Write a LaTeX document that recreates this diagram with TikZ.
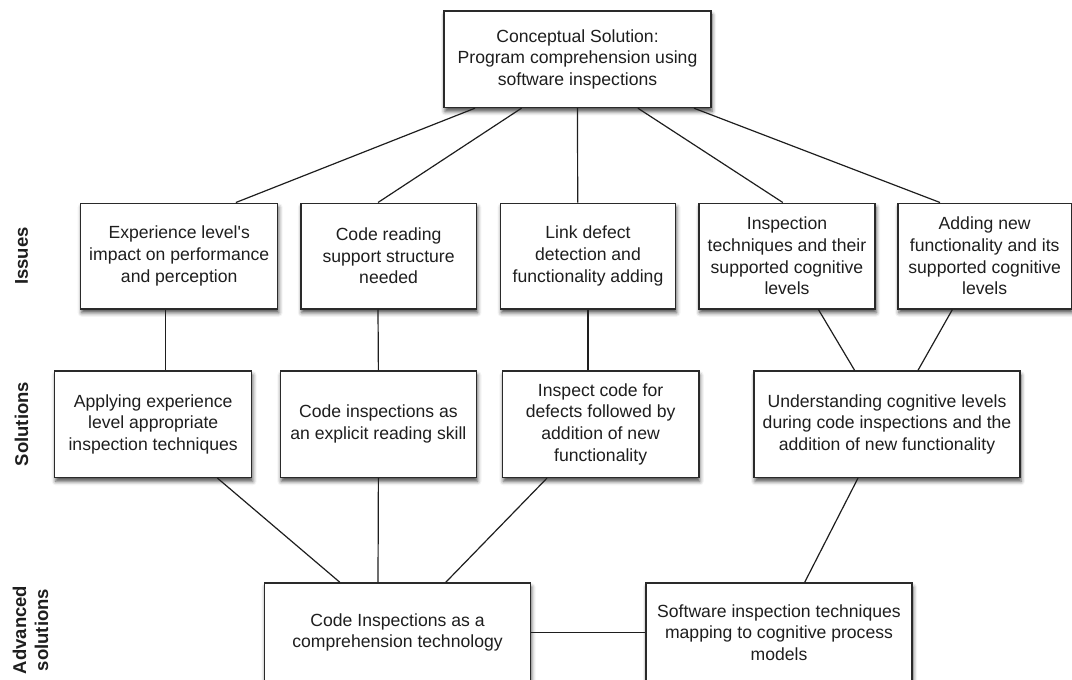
\documentclass[tikz,border=0pt]{standalone}
\usepackage{fontspec}
\newfontfamily\helv{Liberation Sans}
\usetikzlibrary{shadows.blur}
\definecolor{ink}{HTML}{1E1E1E}
\definecolor{frame}{HTML}{2A2A2A}
\tikzset{
  box/.style={draw=frame, line width=1.5pt, fill=white, inner sep=0pt,
    align=center, text=ink,
    font=\helv\fontsize{17.6}{21.6}\selectfont,
    blur shadow={shadow xshift=1pt, shadow yshift=-4pt,
      shadow blur radius=4pt, shadow opacity=70}},
  link/.style={draw=ink, line width=1.2pt},
  rowlabel/.style={rotate=90, align=center, text=ink,
    font=\helv\bfseries\fontsize{18.5}{22}\selectfont}
}
\begin{document}
\begin{tikzpicture}[x=1pt, y=-1pt]
\useasboundingbox (0,0) rectangle (1072,680);
\begin{scope}
\clip (-10,-10) rectangle (1082,680);

% top concept
\node[box, minimum width=267, minimum height=96.5] (top) at (577.5,59.2)
  {Conceptual Solution:\\Program comprehension using\\software inspections};

% issues row
\node[box, minimum width=197, minimum height=105.5] (i1) at (179.2,256)
  {Experience level's\\impact on performance\\and perception};
\node[box, minimum width=175.7, minimum height=105.5] (i2) at (388.6,256)
  {Code reading\\support structure\\needed};
\node[box, minimum width=175, minimum height=105.5] (i3) at (588,256)
  {Link defect\\detection and\\functionality adding};
\node[box, minimum width=176.3, minimum height=105.5] (i4) at (787,256)
  {Inspection\\techniques and their\\supported cognitive\\levels};
\node[box, minimum width=173.5, minimum height=105.5] (i5) at (984.7,256)
  {Adding new\\functionality and its\\supported cognitive\\levels};

% solutions row
\node[box, minimum width=197, minimum height=106.3] (s1) at (153.2,424.2)
  {Applying experience\\level appropriate\\inspection techniques};
\node[box, minimum width=196.2, minimum height=106.3] (s2) at (378.4,424.2)
  {Code inspections as\\an explicit reading skill};
\node[box, minimum width=196.3, minimum height=106.3] (s3) at (600.6,424.2)
  {Inspect code for\\defects followed by\\addition of new\\functionality};
\node[box, minimum width=266, minimum height=106.3] (s4) at (887,424.2)
  {Understanding cognitive levels\\during code inspections and the\\addition of new functionality};

% advanced solutions row
\node[box, minimum width=266, minimum height=99] (a1) at (397.5,632.5)
  {Code Inspections as a\\comprehension technology};
\node[box, minimum width=266, minimum height=99] (a2) at (779,632.5)
  {Software inspection techniques\\mapping to cognitive process\\models};
\end{scope}

% concept to issues
\draw[link] ([xshift=-102.5pt]top.south) -- ([xshift=56.7pt]i1.north);
\draw[link] ([xshift=-56pt]top.south) -- ([xshift=-10.6pt]i2.north);
\draw[link] (top.south) -- ([xshift=-10.3pt]i3.north);
\draw[link] ([xshift=60.4pt]top.south) -- ([xshift=-4.2pt]i4.north);
\draw[link] ([xshift=116.5pt]top.south) -- ([xshift=-44.7pt]i5.north);

% issues to solutions
\draw[link] ([xshift=-13.7pt]i1.south) -- ([xshift=12.3pt]s1.north);
\draw[link] ([xshift=-10.6pt]i2.south) -- (s2.north);
\draw[link] (i3.south) -- ([xshift=-12.6pt]s3.north);
\draw[link] ([xshift=31.4pt]i4.south) -- ([xshift=-32.4pt]s4.north);
\draw[link] ([xshift=-32.3pt]i5.south) -- ([xshift=31pt]s4.north);

% solutions to advanced solutions
\draw[link] ([xshift=64.2pt]s1.south) -- ([xshift=-57.7pt]a1.north);
\draw[link] (s2.south) -- ([xshift=-19.5pt]a1.north);
\draw[link] ([xshift=-53.6pt]s3.south) -- ([xshift=48.3pt]a1.north);
\draw[link] ([xshift=-29pt]s4.south) -- ([xshift=25.7pt]a2.north);
\draw[link] (a1.east) -- (a2.west);

% row labels
\node[rowlabel] (lissues) at (21.5,256) {Issues};
\node[rowlabel] (lsol) at (21.5,424) {Solutions};
\node[rowlabel] (ladv) at (30.5,630) {Advanced\\solutions};
\end{tikzpicture}
\end{document}
